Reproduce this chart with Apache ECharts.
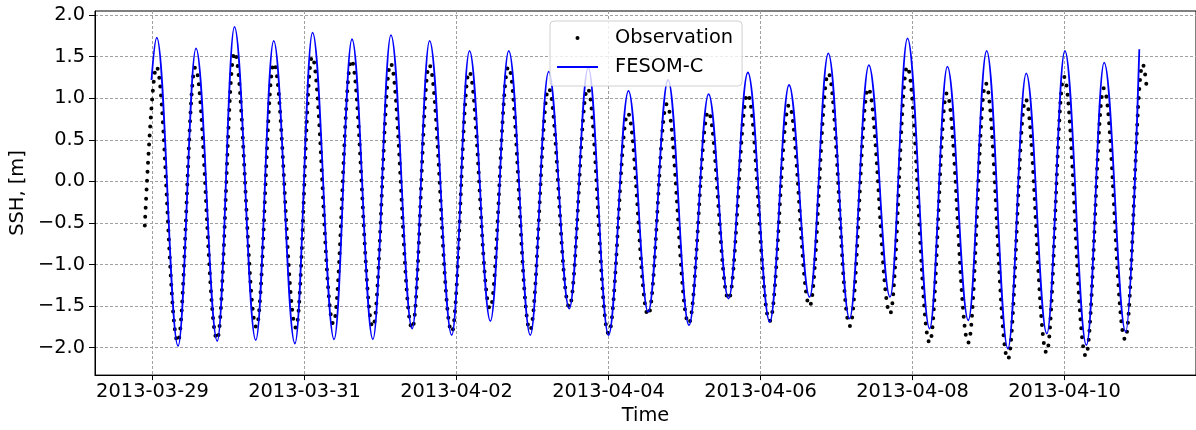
<!DOCTYPE html>
<html>
<head>
<meta charset="utf-8">
<script src="https://cdn.jsdelivr.net/npm/echarts@6/dist/echarts.min.js"></script>
<style>
html,body{margin:0;padding:0;background:#fff;}
#c{width:1196px;height:430px;}
</style>
</head>
<body>
<div id="c"></div>
<script>
// Time in hours since 2013-03-29 00:00; values are SSH in metres (turning points)
const obsHours = [-2.42, 1.26, 8.0, 13.5, 20.4, 25.9, 32.8, 38.3, 45.3, 50.4, 57.1, 62.8, 69.6, 75.2, 82.0, 87.4, 94.5, 100.0, 106.6, 112.4, 119.2, 125.1, 131.6, 137.4, 144.0, 150.1, 156.5, 162.4, 169.3, 175.5, 181.9, 187.9, 194.9, 201.0, 207.5, 213.4, 220.2, 226.0, 232.9, 238.3, 245.4, 250.8, 257.6, 263.1, 270.1, 275.7, 282.3, 287.8, 294.7, 300.4, 307.1, 312.7, 313.9];
const obsSSH = [-0.53, 1.38, -1.93, 1.37, -1.90, 1.55, -1.75, 1.42, -1.76, 1.50, -1.71, 1.46, -1.75, 1.42, -1.77, 1.40, -1.81, 1.32, -1.53, 1.38, -1.79, 1.12, -1.51, 1.12, -1.83, 0.82, -1.61, 0.93, -1.71, 0.84, -1.42, 1.05, -1.68, 0.92, -1.50, 1.30, -1.74, 1.12, -1.59, 1.38, -1.94, 1.06, -1.94, 1.18, -2.14, 0.99, -2.06, 1.26, -2.10, 1.12, -1.90, 1.41, 1.14];

const modelHours = [-0.31, 1.35, 8.08, 13.75, 20.45, 25.89, 32.62, 38.28, 44.98, 50.55, 57.35, 63.0, 69.6, 75.3, 82.0, 87.5, 94.5, 100.1, 106.7, 112.5, 119.3, 125.1, 131.6, 137.6, 144.0, 150.3, 156.5, 162.8, 169.4, 175.6, 181.9, 188.0, 194.9, 201.0, 207.5, 213.4, 220.1, 226.2, 232.9, 238.4, 245.4, 251.0, 257.6, 263.4, 270.1, 275.9, 282.4, 288.1, 294.9, 300.5, 307.3, 311.6];
const modelSSH = [1.22, 1.73, -1.98, 1.60, -1.92, 1.86, -1.91, 1.69, -1.95, 1.79, -1.90, 1.71, -1.90, 1.76, -1.77, 1.69, -1.85, 1.57, -1.68, 1.57, -1.85, 1.32, -1.53, 1.37, -1.85, 1.09, -1.57, 1.22, -1.73, 1.05, -1.41, 1.31, -1.69, 1.16, -1.39, 1.54, -1.65, 1.40, -1.39, 1.72, -1.77, 1.38, -1.67, 1.57, -2.01, 1.30, -1.83, 1.57, -1.97, 1.43, -1.81, 1.59];

const tickHours = [0, 48, 96, 144, 192, 240, 288];
const tickLabels = ['2013-03-29', '2013-03-31', '2013-04-02', '2013-04-04', '2013-04-06', '2013-04-08', '2013-04-10'];
const yTicks = [-2.0, -1.5, -1.0, -0.5, 0.0, 0.5, 1.0, 1.5, 2.0];

const FONT = 'DejaVu Sans';
const FS = 19.4;
const obsData = obsHours.map((h, i) => [h, obsSSH[i]]);
const modelData = modelHours.map((h, i) => [h, modelSSH[i]]);

const chart = echarts.init(document.getElementById('c'), null, {renderer: 'canvas'});
chart.setOption({
  animation: false,
  backgroundColor: '#fff',
  grid: {left: 93, top: 11, width: 1105.5, height: 365.7, show: true, borderColor: '#000', borderWidth: 1, containLabel: false},
  legend: {
    left: 550, top: 21,
    orient: 'vertical',
    padding: [6, 9, 8, 6],
    itemGap: 7,
    itemWidth: 41, itemHeight: 5,
    backgroundColor: 'rgba(255,255,255,0.8)',
    borderColor: '#d0d0d0', borderWidth: 1, borderRadius: 4,
    textStyle: {fontFamily: FONT, fontSize: FS, color: '#000', lineHeight: 22, padding: [0, 0, 0, 12]},
    data: [
      {name: 'Observation', lineStyle: {opacity: 0}, itemStyle: {color: '#000'}},
      {name: 'FESOM-C', itemStyle: {opacity: 0}, lineStyle: {color: '#0000ff', width: 1.8}}
    ],
    z: 10
  },
  xAxis: {
    type: 'value', min: -18.15, max: 329.5,
    name: 'Time', nameLocation: 'middle', nameGap: 30,
    nameTextStyle: {fontFamily: FONT, fontSize: FS, color: '#000'},
    axisLine: {show: true, onZero: false, lineStyle: {color: '#000', width: 1}},
    axisTick: {show: true, length: 5, customValues: tickHours, lineStyle: {color: '#000'}},
    axisLabel: {customValues: tickHours, margin: 7, fontFamily: FONT, fontSize: FS, color: '#000',
      formatter: v => tickLabels[tickHours.indexOf(Math.round(v))] || ''},
    splitLine: {show: true, lineStyle: {color: '#a0a0a0', width: 1, type: [3, 2]}}
  },
  yAxis: {
    type: 'value', min: -2.33, max: 2.05,
    name: 'SSH, [m]', nameLocation: 'middle', nameRotate: 90, nameGap: 54,
    nameTextStyle: {fontFamily: FONT, fontSize: FS, color: '#000'},
    axisLine: {show: true, onZero: false, lineStyle: {color: '#000', width: 1}},
    axisTick: {show: true, length: 6, customValues: yTicks, lineStyle: {color: '#000'}},
    axisLabel: {customValues: yTicks, margin: 10, fontFamily: FONT, fontSize: FS, color: '#000',
      formatter: v => v.toFixed(1).replace('-', '\u2212')},
    splitLine: {show: true, lineStyle: {color: '#a0a0a0', width: 1, type: [3, 2]}}
  },
  series: [
    {
      name: 'Observation', type: 'line', data: obsData,
      smooth: 0.38, smoothMonotone: 'x',
      symbol: 'circle', showSymbol: false, symbolSize: 4,
      itemStyle: {color: '#000'},
      lineStyle: {color: '#000', width: 4, type: [0, 9], cap: 'round'},
      z: 2, silent: true
    },
    {
      name: 'FESOM-C', type: 'line', data: modelData,
      smooth: 0.38, smoothMonotone: 'x',
      symbol: 'none',
      itemStyle: {color: '#0000ff'},
      lineStyle: {color: '#0000ff', width: 1.8},
      z: 3, silent: true
    }
  ]
});
</script>
</body>
</html>
